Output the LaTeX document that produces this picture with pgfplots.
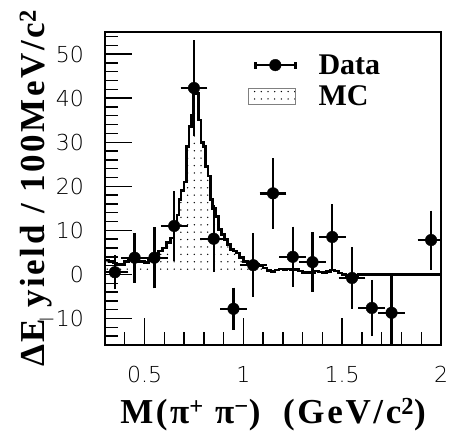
\documentclass[border=0pt]{standalone}
\usepackage{fontspec}
\setmainfont{Liberation Serif}
\newfontfamily\labelfont{Liberation Serif}[LetterSpace=7.5]
\newfontfamily\tickfont{DejaVu Sans}[UprightFont={* ExtraLight}]
\usepackage{pgfplots}
\usepackage{pgfplotstable}
\pgfplotsset{compat=1.18}
\usetikzlibrary{patterns}

% sparse dot fill of the MC histogram
\pgfdeclarepatternformonly{mcdots}{\pgfqpoint{-1pt}{-1pt}}{\pgfqpoint{1pt}{1pt}}{\pgfqpoint{6.7pt}{7.4pt}}{%
  \pgfpathcircle{\pgfqpoint{0pt}{0pt}}{0.75pt}\pgfusepath{fill}}

% MC histogram (left bin edge, content)
\pgfplotstableread{
x y
0.30 3.3
0.32 3.0
0.34 2.6
0.36 2.2
0.38 2.2
0.40 3.0
0.42 3.4
0.44 3.2
0.46 2.8
0.48 2.9
0.50 2.7
0.52 3.2
0.54 3.8
0.56 4.6
0.57 5.3
0.59 6.0
0.61 7.2
0.63 8.3
0.65 11.0
0.665 13.5
0.675 17.0
0.685 19.0
0.700 21.0
0.712 29.0
0.725 33.5
0.737 36.0
0.746 42.0
0.760 41.0
0.772 35.0
0.785 30.0
0.797 29.0
0.810 24.5
0.822 22.3
0.835 17.0
0.845 15.0
0.860 13.2
0.875 10.2
0.890 9.0
0.905 7.9
0.920 6.8
0.935 5.7
0.950 5.3
0.965 4.9
0.980 3.8
1.00 3.0
1.02 2.5
1.04 2.3
1.06 2.2
1.08 2.0
1.10 1.5
1.12 0.9
1.14 0.7
1.16 1.0
1.18 1.2
1.20 1.1
1.22 1.2
1.24 1.0
1.26 1.1
1.28 0.8
1.30 0.4
1.32 0.5
1.34 0.3
1.36 0.8
1.38 0.6
1.40 0.4
1.42 0.7
1.44 1.0
1.46 0.8
1.48 0.3
1.50 0.0
1.52 -0.3
1.54 -0.5
1.56 -0.3
1.58 0.0
2.00 0.0
}\mctab

% data points
\pgfplotstableread{
x y ex ey
0.35 0.5 0.05 3.1
0.45 3.8 0.05 4.85
0.55 3.8 0.05 6.15
0.65 11.0 0.05 7.1
0.75 42.3 0.05 10.0
0.85 8.1 0.05 6.8
0.95 -7.8 0.05 4.0
1.05 2.1 0.05 6.4
1.15 18.4 0.05 7.2
1.25 4.0 0.05 6.05
1.35 2.8 0.05 5.95
1.45 8.5 0.05 6.6
1.55 -0.8 0.05 6.15
1.65 -7.6 0.05 5.6
1.75 -8.7 0.05 7.5
1.95 7.8 0.05 5.9
}\datatab

\begin{document}
\begin{tikzpicture}
\begin{axis}[
  scale only axis, width=336pt, height=313pt,
  xmin=0.3, xmax=2.0, ymin=-16, ymax=55,
  xtick={0.5,1,1.5,2}, xticklabels={0.5,1,1.5,2},
  ytick={-10,0,10,20,30,40,50}, yticklabels={−10,0,10,20,30,40,50},
  minor xtick={0.3,0.4,...,2.01},
  minor ytick={-16,-14,...,54},
  xtick pos=bottom, ytick pos=left, tick align=inside,
  major tick length=27pt, minor tick length=13pt,
  axis line style={line width=2pt},
  every tick/.style={line width=1.4pt, black},
  ticklabel style={font=\fontsize{22}{22}\selectfont\tickfont, inner sep=0pt},
  yticklabel style={anchor=east, xshift=-21pt},
  xticklabel style={anchor=north, yshift=-21pt},
  xlabel={M(π\textsuperscript{+} π\textsuperscript{−})\ \ (GeV/c\textsuperscript{2})},
  ylabel={ΔE yield / 100MeV/c\textsuperscript{2}},
  xlabel style={font=\labelfont\fontsize{35}{35}\selectfont\bfseries, at={(axis description cs:0.5,0)}, anchor=base, yshift=-78.7pt, inner sep=0pt},
  ylabel style={font=\labelfont\fontsize{35}{35}\selectfont\bfseries, at={(axis description cs:0,0.5)}, anchor=base, yshift=60pt, inner sep=0pt},
  legend style={at={(axis description cs:0.417,0.935)}, anchor=north west, draw=none, fill=none,
    font=\fontsize{30}{30}\selectfont\bfseries, row sep=10pt, column sep=22pt,
    nodes={inner sep=0pt}},
  legend cell align=left,
  reverse legend,
]
\addplot[const plot mark left, draw=none, pattern=mcdots,
  legend image code/.code={\draw[pattern=mcdots, draw=gray, line width=0.6pt] (0pt,-8pt) rectangle (46.7pt,8pt);}]
  table[x=x, y=y] {\mctab} \closedcycle;
\addlegendentry{MC}
\addplot[const plot mark left, black, line width=2.6pt, forget plot] table[x=x, y=y] {\mctab};
\addplot[only marks, mark=*, mark size=5.8pt, black,
  error bars/.cd, x dir=both, x explicit, y dir=both, y explicit,
  error bar style={line width=2.4pt},
  error mark options={line width=2.4pt, mark size=3.5pt},
  /pgfplots/legend image code/.code={%
    \draw[line width=2.4pt] (6.7pt,0pt) -- (46.7pt,0pt);
    \draw[line width=2.4pt] (6.7pt,-3.5pt) -- (6.7pt,3.5pt);
    \draw[line width=2.4pt] (46.7pt,-3.5pt) -- (46.7pt,3.5pt);
    \fill (26.7pt,0pt) circle (5.8pt);}]
  table[x=x, y=y, x error=ex, y error=ey] {\datatab};
\addlegendentry{Data}
\end{axis}
\pgfresetboundingbox
\path[use as bounding box] ([shift={(-105pt,-87pt)}]current axis.south west) rectangle ([shift={(10pt,32pt)}]current axis.north east);
\end{tikzpicture}
\end{document}
